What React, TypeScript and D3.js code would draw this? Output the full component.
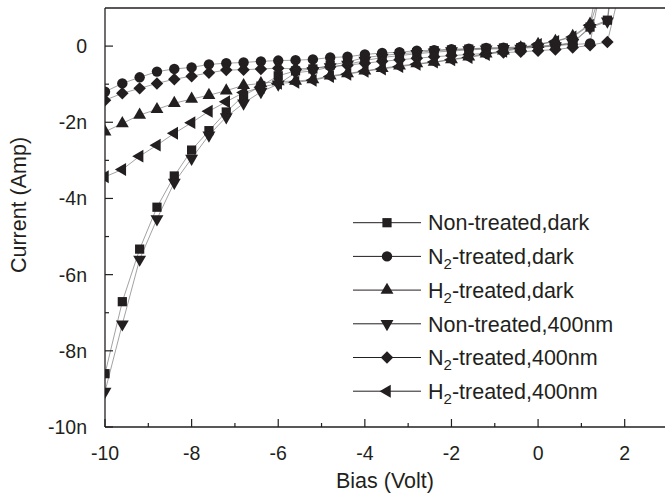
import * as d3 from 'd3';

// bias points (Volt)
const bias = [-10, -9.6, -9.2, -8.8, -8.4, -8.0, -7.6, -7.2, -6.8, -6.4, -6.0, -5.6, -5.2, -4.8, -4.4, -4.0,
  -3.6, -3.2, -2.8, -2.4, -2.0, -1.6, -1.2, -0.8, -0.4, 0, 0.4, 0.8, 1.2, 1.6, 2.0];

// current in nA
const nonDark = [-8.6, -6.71, -5.33, -4.23, -3.41, -2.73, -2.22, -1.73, -1.3, -1.05, -0.78, -0.65, -0.6, -0.5, -0.42, -0.3,
  -0.25, -0.2, -0.17, -0.12, -0.1, -0.08, -0.06, -0.05, -0.04, -0.02, 0.02, 0.1, 0.5, 0.68, 5.0];
const n2Dark = [-1.2, -0.98, -0.82, -0.67, -0.6, -0.56, -0.48, -0.45, -0.43, -0.4, -0.38, -0.37, -0.35, -0.3, -0.28, -0.22,
  -0.18, -0.16, -0.12, -0.11, -0.08, -0.07, -0.05, -0.04, -0.02, 0.0, 0.02, 0.04, 0.07, 2.5, 8.0];
const h2Dark = [-2.25, -2.03, -1.81, -1.66, -1.5, -1.39, -1.29, -1.17, -1.03, -0.98, -0.93, -0.92, -0.88, -0.78, -0.72, -0.65,
  -0.58, -0.52, -0.46, -0.42, -0.35, -0.28, -0.2, -0.12, -0.04, 0.05, 0.13, 0.26, 0.58, 3.0, 9.0];
const non400 = [-9.07, -7.3, -5.6, -4.54, -3.58, -2.95, -2.34, -1.86, -1.5, -1.2, -1.0, -0.7, -0.65, -0.55, -0.48, -0.38,
  -0.3, -0.25, -0.2, -0.16, -0.13, -0.1, -0.08, -0.07, -0.06, -0.03, 0.0, 0.08, 0.48, 0.65, 4.0];
const n2400 = [-1.42, -1.24, -1.11, -0.98, -0.87, -0.79, -0.7, -0.63, -0.62, -0.6, -0.58, -0.6, -0.58, -0.55, -0.5, -0.45,
  -0.4, -0.36, -0.32, -0.28, -0.25, -0.22, -0.19, -0.17, -0.15, -0.12, -0.09, -0.04, 0.02, 0.11, 2.0];
const h2400 = [-3.43, -3.24, -2.89, -2.6, -2.29, -2.01, -1.71, -1.46, -1.22, -1.08, -0.98, -0.95, -0.9, -0.8, -0.74, -0.66,
  -0.6, -0.54, -0.48, -0.42, -0.36, -0.3, -0.22, -0.14, -0.06, 0.04, 0.12, 0.24, 0.55, 2.0, 7.0];

const xTicks = [-10, -8, -6, -4, -2, 0, 2];
const xMinor = [-9, -7, -5, -3, -1, 1, 3];
const yTicks = [-10, -8, -6, -4, -2, 0];
const yMinor = [-9, -7, -5, -3, -1];

const series = [
  { pre: 'Non-treated,dark', sub: '', post: '', values: nonDark, shape: 'square' },
  { pre: 'N', sub: '2', post: '-treated,dark', values: n2Dark, shape: 'circle' },
  { pre: 'H', sub: '2', post: '-treated,dark', values: h2Dark, shape: 'up' },
  { pre: 'Non-treated,400nm', sub: '', post: '', values: non400, shape: 'down' },
  { pre: 'N', sub: '2', post: '-treated,400nm', values: n2400, shape: 'diamond' },
  { pre: 'H', sub: '2', post: '-treated,400nm', values: h2400, shape: 'left' },
];

const W = 665;
const H = 500;
const left = 105, right = 668, top = 8, bottom = 427;
const ink = '#231f20';
const font = 'Arial, "Liberation Sans", Helvetica, sans-serif';

function symbolPath(shape: string) {
  if (shape === 'square') return d3.symbol(d3.symbolSquare, 85)()!;
  if (shape === 'circle') return d3.symbol(d3.symbolCircle, 85)()!;
  if (shape === 'diamond') return d3.symbol(d3.symbolSquare, 78)()!;
  return d3.symbol(d3.symbolTriangle, 72)()!;
}
function symbolRot(shape: string) {
  if (shape === 'down') return 180;
  if (shape === 'left') return -90;
  if (shape === 'diamond') return 45;
  return 0;
}

export default function App() {
  const x = d3.scaleLinear().domain([-10, 3]).range([left, right]);
  const y = d3.scaleLinear().domain([-10, 1]).range([bottom, top]);

  const line = d3.line<number>()
    .x((d, i) => x(bias[i]))
    .y(d => y(d));

  const legX = 353, legW = 68, legY0 = 222.7, legDy = 33.7;

  return (
    <svg width={W} height={H} style={{ position: 'absolute', left: 0, top: 0, background: '#fff' }}
      fontFamily={font}>
      <defs>
        <clipPath id="plot">
          <rect x={left} y={top} width={right - left} height={bottom - top} />
        </clipPath>
      </defs>

      <g clipPath="url(#plot)">
        {series.map((s, si) => (
          <path key={'l' + si} d={line(s.values)!} fill="none" stroke="#444" strokeWidth={0.5} />
        ))}
        {series.map((s, si) => (
          <g key={'m' + si}>
            {s.values.map((v, i) => (
              <path key={i} d={symbolPath(s.shape)} fill={ink}
                transform={`translate(${x(bias[i])},${y(v)}) rotate(${symbolRot(s.shape)})`} />
            ))}
          </g>
        ))}
      </g>

      {/* frame */}
      <line x1={left} x2={right} y1={bottom} y2={bottom} stroke={ink} strokeWidth={1.3} />
      <line x1={left} x2={left} y1={top} y2={bottom} stroke={ink} strokeWidth={1.3} />
      <line x1={left} x2={right} y1={top} y2={top} stroke={ink} strokeWidth={1.3} />

      {/* x ticks */}
      {xTicks.map(t => (
        <g key={'xt' + t}>
          <line x1={x(t)} x2={x(t)} y1={bottom} y2={bottom - 8} stroke={ink} strokeWidth={1.2} />
          <text x={x(t)} y={460} textAnchor="middle" fontSize={19.5} fill={ink}>{t}</text>
        </g>
      ))}
      {xMinor.map(t => (
        <line key={'xm' + t} x1={x(t)} x2={x(t)} y1={bottom} y2={bottom - 4} stroke={ink} strokeWidth={1.2} />
      ))}

      {/* y ticks */}
      {yTicks.map(t => (
        <g key={'yt' + t}>
          <line x1={left} x2={left + 8} y1={y(t)} y2={y(t)} stroke={ink} strokeWidth={1.2} />
          <text x={87} y={y(t)} dy="0.36em" textAnchor="end" fontSize={19.5} fill={ink}>
            {t === 0 ? '0' : `${t}n`}
          </text>
        </g>
      ))}
      {yMinor.map(t => (
        <line key={'ym' + t} x1={left} x2={left + 4} y1={y(t)} y2={y(t)} stroke={ink} strokeWidth={1.2} />
      ))}

      {/* axis titles */}
      <text x={(left + 665) / 2} y={488} textAnchor="middle" fontSize={21.5} fill={ink}>Bias (Volt)</text>
      <text transform="translate(26,205) rotate(-90)" textAnchor="middle" fontSize={21.5} fill={ink}>Current (Amp)</text>

      {/* legend */}
      {series.map((s, i) => {
        const cy = legY0 + i * legDy;
        return (
          <g key={'lg' + i}>
            <line x1={legX} x2={legX + legW} y1={cy} y2={cy} stroke={ink} strokeWidth={1} />
            <path d={symbolPath(s.shape)} fill={ink}
              transform={`translate(${legX + legW / 2},${cy}) rotate(${symbolRot(s.shape)})`} />
            <text x={428} y={cy} dy="0.36em" fontSize={21.5} fill={ink}>
              {s.pre}
              {s.sub && <tspan dy={5} fontSize={15}>{s.sub}</tspan>}
              {s.sub && <tspan dy={-5}>{s.post}</tspan>}
            </text>
          </g>
        );
      })}
    </svg>
  );
}
